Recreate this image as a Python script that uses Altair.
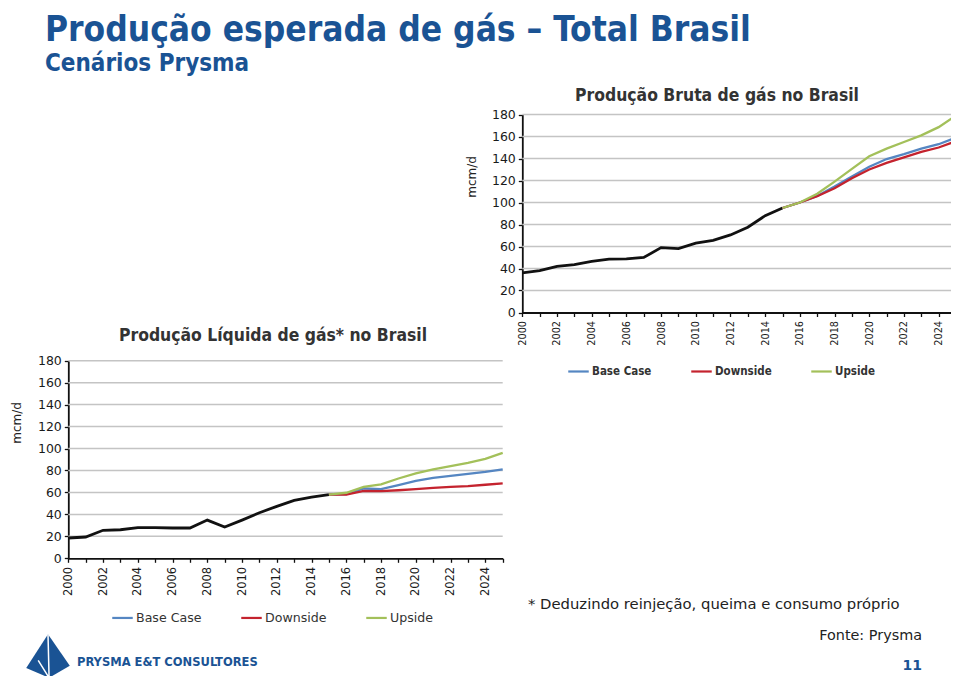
import altair as alt
import pandas as pd

# ---------------- data ----------------
anos_hist = list(range(2000, 2016))
anos_prev = list(range(2015, 2026))
cenarios = ["Base Case", "Downside", "Upside"]
cores = ["#5586c2", "#c4232e", "#a3c05a"]
grade = [20, 40, 60, 80, 100, 120, 140, 160, 180]
ticks_y = [0, 20, 40, 60, 80, 100, 120, 140, 160, 180]
ticks_x = list(range(2000, 2026))

# Produção Bruta (mcm/d)
bruta_hist = [36, 38, 42, 43.5, 46.5, 48.5, 48.8, 50, 59, 58, 63, 65.5, 70.5, 77.5, 88, 95]
bruta_base = [95, 100, 106, 114.5, 123.6, 132.5, 139.5, 144, 149, 153, 159]
bruta_down = [95, 100, 105.7, 113, 122, 130, 136, 141, 146, 150, 155.7]
bruta_up = [95, 100, 108, 119, 130.6, 142, 149, 155, 161, 168.5, 179]

# Produção Líquida (mcm/d)
liq_hist = [18.5, 19.4, 25.5, 26, 28, 28, 27.6, 27.6, 34.8, 28.5, 34.8, 41.5, 47.3, 52.7, 55.8, 58]
liq_base = [58, 58.5, 63.6, 63, 66.7, 70.6, 73.3, 75, 77, 78.8, 81]
liq_down = [58, 58, 61.5, 61.2, 62, 63, 64.2, 65, 65.8, 67, 68.2]
liq_up = [58, 59.7, 65, 67.3, 72.7, 77.3, 81, 84, 87, 90.6, 96]

# ---------------- layout ----------------
W, H = 943, 668
M = 8  # page margin
BLUE = "#1a5394"
F_REG = "DejaVu Sans"
F_COND = "DejaVu Sans Condensed"


def panel(hist, base, down, up, x0, x1, y0, y1, xlab_font, xlab_size,
          leg_x, leg_y, leg_font, leg_size, leg_weight, col_pad):
    xs = alt.Scale(domain=[2000, 2025], range=[x0 - M, x1 - M], nice=False, zero=False)
    ys = alt.Scale(domain=[0, 180], range=[y0 - M, y1 - M], nice=False, zero=True)
    xaxis = alt.Axis(
        orient="bottom", offset=(y0 - M) - H, values=ticks_x, format="d",
        labelExpr="datum.value % 2 == 0 && datum.value < 2025 ? datum.label : ''",
        labelAngle=270, labelFont=xlab_font, labelFontSize=xlab_size,
        labelColor="#1a1a1a", labelPadding=4, labelOverlap=False,
        tickColor="#111", tickSize=4, tickWidth=1.3,
        domainColor="#111", domainWidth=1.8, grid=False, title=None,
    )
    yaxis = alt.Axis(
        orient="left", offset=-(x0 - M), values=ticks_y, format="d",
        labelFont=F_REG, labelFontSize=12.5, labelColor="#1a1a1a", labelPadding=3,
        labelOverlap=False,
        tickColor="#111", tickSize=4, tickWidth=1.3,
        domainColor="#111", domainWidth=1.8, grid=False, title=None,
    )
    hist_df = pd.DataFrame({"ano": anos_hist, "valor": hist})
    prev_df = pd.DataFrame({
        "ano": anos_prev * 3,
        "valor": base + down + up,
        "cenario": [c for c in cenarios for _ in anos_prev],
    })
    grid_df = pd.DataFrame({"g": grade, "a0": [2000] * len(grade), "a1": [2025] * len(grade)})

    grid = alt.Chart(grid_df).mark_rule(color="#c4c4c4", strokeWidth=1.5).encode(
        x=alt.X("a0:Q", scale=xs, axis=xaxis),
        x2="a1:Q",
        y=alt.Y("g:Q", scale=ys, axis=yaxis),
    )
    hline = alt.Chart(hist_df).mark_line(color="#111", strokeWidth=2.8).encode(
        x=alt.X("ano:Q", scale=xs, axis=xaxis),
        y=alt.Y("valor:Q", scale=ys, axis=yaxis),
    )
    pline = alt.Chart(prev_df).mark_line(strokeWidth=2.3).encode(
        x=alt.X("ano:Q", scale=xs, axis=xaxis),
        y=alt.Y("valor:Q", scale=ys, axis=yaxis),
        color=alt.Color(
            "cenario:N",
            scale=alt.Scale(domain=cenarios, range=cores),
            legend=alt.Legend(
                orient="none", legendX=leg_x - M, legendY=leg_y - M,
                direction="horizontal", title=None, symbolType="stroke",
                symbolSize=420, symbolStrokeWidth=2.2, labelFont=leg_font,
                labelFontSize=leg_size, labelFontWeight=leg_weight,
                labelColor="#333", columnPadding=col_pad, labelOffset=2,
                padding=0,
            ),
        ),
    )
    return alt.layer(grid, hline, pline)


def texto(s, x, y, size, font=F_REG, weight="normal", color="#222",
          align="left", angle=0, baseline="alphabetic"):
    return alt.Chart(pd.DataFrame({"t": [s]})).mark_text(
        x=x - M, y=y - M, fontSize=size, font=font, fontWeight=weight,
        color=color, align=align, angle=angle, baseline=baseline,
    ).encode(text="t:N")


top = panel(bruta_hist, bruta_base, bruta_down, bruta_up,
            522.3, 956, 312.5, 114.5, F_COND, 10.8,
            567, 360, F_COND, 11.5, "bold", 34)
bottom = panel(liq_hist, liq_base, liq_down, liq_up,
               68.3, 502.7, 558.3, 360.7, F_REG, 11.5,
               111, 606, F_REG, 12.6, "normal", 34)

logo_df = pd.DataFrame({"t": ["logo"]})
logo = alt.Chart(logo_df).mark_point(
    shape="M0,-1L1,0.45L0.05,1L-1,0.55Z", filled=True, color=BLUE,
    size=1900, opacity=1, x=48 - M, y=656 - M,
).encode(detail="t:N")
logo_line = alt.Chart(logo_df).mark_point(
    shape="M0,-1L0.05,1M-0.45,0.2L0.05,1", filled=False, color="white",
    strokeWidth=1.5, size=1900, opacity=1, x=48 - M, y=656 - M,
).encode(detail="t:N")

texts = [
    texto("Produção esperada de gás – Total Brasil", 45, 41, 35, F_COND, "bold", BLUE),
    texto("Cenários Prysma", 45, 71, 24, F_COND, "bold", BLUE),
    texto("Produção Bruta de gás no Brasil", 717, 101, 17.4, F_COND, "bold", "#333", "center"),
    texto("Produção Líquida de gás* no Brasil", 273, 341, 17.4, F_COND, "bold", "#333", "center"),
    texto("mcm/d", 472, 177, 12, F_REG, "normal", "#222", "center", 270, "middle"),
    texto("mcm/d", 17, 423, 12, F_REG, "normal", "#222", "center", 270, "middle"),
    texto("* Deduzindo reinjeção, queima e consumo próprio", 528, 609, 14.8, F_REG, "normal", "#222"),
    texto("Fonte: Prysma", 922, 640, 14.4, F_REG, "normal", "#222", "right"),
    texto("11", 922, 670, 14, F_REG, "bold", BLUE, "right"),
    texto("PRYSMA E&T CONSULTORES", 77, 666, 12.8, F_COND, "bold", BLUE),
]

chart = alt.layer(top, bottom, logo, logo_line, *texts).resolve_scale(
    x="independent", y="independent", color="independent"
).properties(
    width=W, height=H, autosize=alt.AutoSizeParams(type="none"), padding=0,
    background="white",
).configure_view(stroke=None)

chart.save("out.html", embed_options={"renderer": "svg", "actions": False})
